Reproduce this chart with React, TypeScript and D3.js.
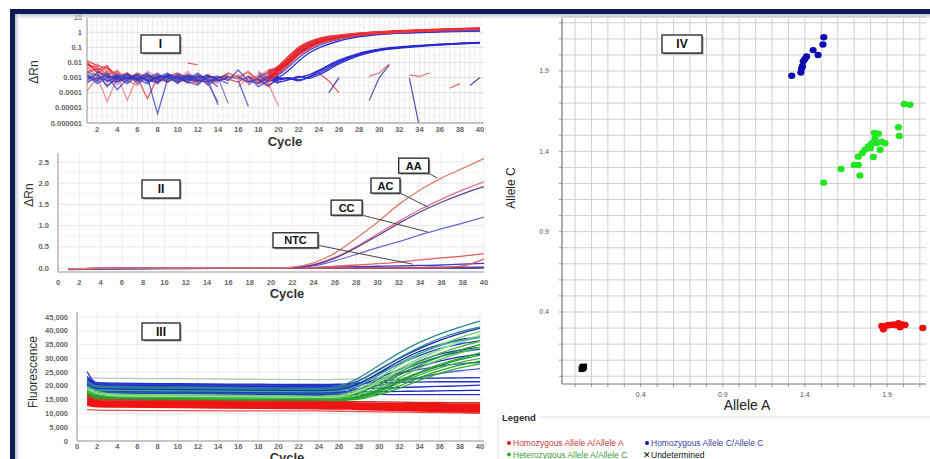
import React from 'react'
import * as d3 from 'd3'

const W = 930
const H = 459
const FONT = '"Liberation Sans", Arial, sans-serif'

// ---------- panel I : amplification plot (log dRn) ----------
const P1_NOISE_CYCLES = d3.range(1, 21)
// log10(dRn) read per cycle, null = no point drawn
const P1_NOISE_RED = [
  [-2.0, -2.6, -2.9, -3.1, -3.0, -2.8, -3.2, -2.9, -3.0, -3.3, -2.9, -3.1, -2.8, -3.2, -3.0, -2.9, -3.3, -3.0, -3.2, -2.6],
  [-2.3, -2.9, -4.6, -3.0, -3.2, -3.5, -2.8, -3.1, -2.9, -3.0, -3.4, -3.2, -3.0, null, null, -3.6, -3.0, -2.9, -3.4, -4.9],
  [-2.1, -2.5, -2.2, -3.2, -2.9, -3.0, -4.4, -3.0, -3.2, -2.8, -3.0, -3.1, -3.3, -3.0, -2.8, null, null, -2.7, -3.1, -2.8],
  [-3.9, -3.0, -2.6, -2.9, -4.5, -2.9, -3.1, -3.4, -2.8, -3.1, -3.2, -2.8, -3.1, -3.4, null, null, -2.7, -3.1, -2.9, -3.3],
  [-2.7, -2.4, -3.3, -2.8, -3.0, -3.2, -3.0, -2.8, -3.3, -2.9, -3.1, -3.4, -2.9, -3.0, -3.1, -3.3, -2.9, -3.4, -3.0, -2.7],
  [-3.4, -2.8, -2.7, -3.5, -2.9, -3.3, -2.9, -3.2, -3.0, -3.2, -2.8, -3.0, -3.2, null, null, null, -3.1, -3.3, -2.8, -3.1],
  [-2.2, -2.3, -2.8, -2.6, -3.1, -2.7, -3.0, -3.3, -2.9, -2.7, -3.0, -2.9, -3.5, -3.1, -2.7, -3.0, -2.6, -3.2, -3.6, -3.0],
  [-2.5, -3.2, -2.5, -3.0, -2.7, -3.1, -2.6, -3.0, -3.1, -3.2, -2.6, -3.3, null, null, -3.2, -2.8, -3.4, -2.9, -2.5, -3.4],
  [-1.9, -2.2, -2.4, -2.8, -3.0, null, null, null, null, null, null, null, null, null, null, null, null, -3.0, -2.6, -2.4],
  [-2.4, -2.1, -2.6, -3.0, -3.3, null, null, null, null, null, null, null, null, null, null, null, -2.9, -3.2, -2.7, -2.5],
  [-2.0, -2.7, -2.3, -2.9, -2.7, -3.2, null, null, null, null, null, null, null, null, null, null, null, -3.3, -2.9, -2.3],
  [-2.6, -2.3, -3.0, -2.5, -3.2, -2.9, -3.1, null, null, null, null, null, null, null, null, -3.1, -2.6, -3.4, -3.1, -2.9],
]
const P1_NOISE_BLUE = [
  [-2.6, -2.9, -3.1, -2.8, -3.0, -2.9, -3.1, -2.8, -3.0, -2.9, -3.2, -2.9, -3.0, -3.3, -2.9, -3.1, -3.0, -3.2, -2.9, -2.8],
  [-3.0, -3.2, -2.7, -3.3, -2.8, -3.1, -3.0, -5.4, -3.1, -2.8, -3.0, -3.3, -2.9, -3.1, -3.4, null, null, -2.8, -3.3, -3.0],
  [-2.8, -3.4, -3.0, -2.9, -3.2, -2.8, -3.3, -3.0, -2.7, -3.2, -2.9, -3.0, -3.2, -4.8, null, -3.2, -4.9, null, -2.9, -3.2],
  [-3.2, -2.8, -3.5, -3.1, -2.9, -3.3, -2.9, -3.2, -3.0, -3.0, -3.3, -2.8, -3.5, -3.0, -4.7, null, null, -2.6, -3.1, -3.4],
  [-2.9, -3.1, -2.9, -3.8, -3.1, -3.0, -2.8, -3.1, -3.3, -2.9, -3.1, -3.2, -3.0, -2.9, -3.2, -2.5, -3.2, -3.4, -3.0, -2.9],
  [-3.3, -3.0, -3.2, -3.0, -3.4, -2.9, -3.2, -3.0, -2.9, -3.4, -2.8, -3.1, -2.8, null, null, -3.0, -3.3, -3.1, -3.5, -3.1],
  [-2.7, -3.3, -2.8, -3.2, -2.7, -3.4, -3.0, -2.7, -3.2, -3.1, -2.8, -3.0, -3.4, -4.6, null, null, -3.5, -3.0, -2.7, -3.3],
  [-3.1, -2.7, -3.6, -2.9, -3.0, -3.1, -2.7, -3.4, -2.8, -3.0, -3.3, -3.5, -2.9, -3.2, -3.0, null, -2.9, -3.6, -3.2, -2.9],
  [null, null, -2.9, -3.0, -2.8, -3.2, -2.9, -3.1, -2.8, -3.0, -3.3, -2.9, -3.1, -3.6, null, null, null, null, null, null],
  [null, -3.0, -3.1, -2.7, -3.3, -2.9, -3.0, -3.2, -3.1, -2.8, -3.0, -3.1, -3.0, null, null, null, null, null, null, null],
  [null, null, -3.2, -3.3, -3.0, -3.1, -3.4, -2.9, -3.0, -3.3, -3.1, -2.7, -3.2, -3.0, -2.9, null, null, null, null, null],
  [null, -2.6, -2.9, -3.1, -3.0, -2.8, -3.2, -3.3, -2.9, -3.1, -2.9, -3.2, -3.3, -3.1, null, null, null, null, null, null],
]
const P1_RISE_CYCLES = [19, 20, 21, 22, 23, 24, 26, 28, 30, 33, 36, 40]
const P1_RISE_RED = [
  [0.003, 0.005, 0.02, 0.09, 0.2, 0.35, 0.6, 0.85, 1.05, 1.3, 1.55, 1.85],
  [0.001, 0.004, 0.015, 0.07, 0.17, 0.3, 0.55, 0.8, 1.0, 1.25, 1.5, 1.8],
  [0.002, 0.003, 0.012, 0.05, 0.13, 0.25, 0.5, 0.75, 0.95, 1.2, 1.45, 1.7],
  [0.0008, 0.003, 0.01, 0.04, 0.11, 0.22, 0.45, 0.7, 0.9, 1.15, 1.4, 1.65],
  [0.002, 0.006, 0.025, 0.1, 0.22, 0.38, 0.62, 0.85, 1.02, 1.25, 1.45, 1.7],
  [0.001, 0.002, 0.008, 0.035, 0.1, 0.2, 0.42, 0.66, 0.86, 1.1, 1.35, 1.6],
  [0.0005, 0.002, 0.007, 0.03, 0.08, 0.17, 0.38, 0.62, 0.82, 1.05, 1.3, 1.55],
]
const P1_RISE_BLUE = [
  [0.002, 0.004, 0.015, 0.06, 0.15, 0.27, 0.5, 0.72, 0.88, 1.05, 1.2, 1.35],
  [0.001, 0.002, 0.008, 0.035, 0.1, 0.2, 0.42, 0.65, 0.82, 1.0, 1.15, 1.3],
  [0.001, 0.0015, 0.005, 0.02, 0.06, 0.13, 0.33, 0.56, 0.74, 0.93, 1.08, 1.22],
  [0.0006, 0.001, 0.003, 0.012, 0.04, 0.09, 0.26, 0.48, 0.68, 0.88, 1.03, 1.18],
  [0.002, 0.003, 0.01, 0.045, 0.12, 0.23, 0.46, 0.68, 0.85, 1.03, 1.18, 1.32],
]
const P1_RISE_BLUE_LOW = [
  [0.001, 0.001, 0.0008, 0.001, 0.0015, 0.003, 0.014, 0.04, 0.075, 0.12, 0.16, 0.21],
  [0.0006, 0.0008, 0.001, 0.0007, 0.001, 0.002, 0.01, 0.033, 0.065, 0.11, 0.15, 0.2],
  [0.0009, 0.0005, 0.0007, 0.0012, 0.0009, 0.0015, 0.008, 0.028, 0.06, 0.1, 0.14, 0.19],
  [0.0012, 0.0007, 0.0009, 0.0006, 0.0011, 0.0025, 0.012, 0.036, 0.07, 0.115, 0.155, 0.205],
]
// stray segments after the rise: [cycle, dRn]
const P1_FRAGMENTS: { color: string; pts: [number, number][] }[] = [
  { color: '#e05a5a', pts: [[24, 0.002], [25, 0.0006], [26, 0.0001]] },
  { color: '#3a3ac0', pts: [[25, 0.0001], [26, 0.001]] },
  { color: '#e07070', pts: [[29, 0.0012], [30, 0.002], [31, 0.008]] },
  { color: '#5050b0', pts: [[29, 0.00003], [30, 0.001], [31, 0.007]] },
  { color: '#5050b0', pts: [[33, 0.0009], [34, 0.0000005]] },
  { color: '#e07070', pts: [[33, 0.0015], [34, 0.0012], [35, 0.002]] },
  { color: '#e07070', pts: [[37, 0.0002], [38, 0.0004]] },
  { color: '#5050b0', pts: [[39, 0.0003], [40, 0.001]] },
  { color: '#e05a5a', pts: [[11, 0.009], [12, 0.007]] },
]
const P1_Y_TICKS = [10, 1, 0.1, 0.01, 0.001, 0.0001, 0.00001, 0.000001]
const P1_Y_LABELS = ['10', '1', '0.1', '0.01', '0.001', '0.0001', '0.00001', '0.000001']

// ---------- panel II : linear dRn ----------
const P2_CYCLES = [1, 4, 10, 18, 20, 22, 24, 26, 28, 30, 32, 34, 36, 38, 40]
const P2_CURVES: { color: string; values: number[] }[] = [
  { color: '#1a1a80', values: [-0.03, -0.02, -0.01, 0, 0, 0, 0, 0, 0, 0, 0, 0, 0, 0, 0.01] },
  { color: '#8040a0', values: [-0.02, -0.01, 0, 0, 0, 0, 0, 0.005, 0.01, 0.01, 0.015, 0.015, 0.02, 0.02, 0.02] },
  { color: '#3a3ac8', values: [-0.02, -0.01, 0, 0, 0, 0, 0.01, 0.02, 0.03, 0.04, 0.05, 0.06, 0.07, 0.09, 0.11] },
  { color: '#e05050', values: [-0.02, -0.01, 0, 0, 0, 0, 0, 0, 0, 0, 0, 0, 0.01, 0.05, 0.21] },
  { color: '#e06060', values: [-0.02, -0.01, 0, 0, 0, 0, 0.01, 0.04, 0.07, 0.1, 0.14, 0.19, 0.24, 0.28, 0.34] },
  { color: '#6b6bd6', values: [-0.02, -0.01, 0, 0, 0, 0.01, 0.05, 0.17, 0.32, 0.48, 0.62, 0.78, 0.92, 1.06, 1.2] },
  { color: '#e0708a', values: [-0.02, -0.01, 0, 0, 0, 0.01, 0.08, 0.25, 0.5, 0.8, 1.1, 1.38, 1.62, 1.84, 2.03] },
  { color: '#5b3f9a', values: [-0.02, -0.01, 0, 0, 0, 0.01, 0.07, 0.23, 0.48, 0.76, 1.05, 1.32, 1.55, 1.75, 1.92] },
  { color: '#e07b67', values: [-0.02, -0.01, 0, 0, 0, 0.02, 0.12, 0.35, 0.7, 1.08, 1.5, 1.84, 2.12, 2.35, 2.58] },
]
// label boxes: box centre (cycle, dRn) and leader end (cycle, dRn)
const P2_LABELS = [
  { text: 'AA', cx: 33.4, top: 2.59, w: 30, from: [34.8, 2.24], to: [35.6, 2.12] },
  { text: 'AC', cx: 30.75, top: 2.12, w: 29, from: [32.1, 1.77], to: [34.7, 1.44] },
  { text: 'CC', cx: 27.1, top: 1.6, w: 31, from: [28.5, 1.25], to: [34.7, 0.85] },
  { text: 'NTC', cx: 22.3, top: 0.83, w: 45, from: [24.3, 0.54], to: [33.3, 0.09] },
]
const P2_Y_TICKS = [0, 0.5, 1, 1.5, 2, 2.5]

// ---------- panel III : raw fluorescence ----------
const P3_CYCLES = [1, 2, 4, 10, 18, 24, 26, 28, 30, 32, 34, 36, 38, 40]
const P3_BAND_CYCLES = [1, 2, 4, 10, 18, 24, 26]
const P3_BLUE_LOW = [19500, 18000, 17200, 17000, 16700, 16300, 16400]
const P3_BLUE_HIGH = [23400, 21200, 21000, 20800, 20600, 20500, 20600]
const P3_GREEN_LOW = [16100, 14900, 14800, 14600, 14500, 14300, 14300]
const P3_GREEN_HIGH = [19500, 18000, 16900, 16700, 16500, 16200, 16300]
const P3_RED_LOW = [12700, 12200, 12100, 11900, 11600, 11400, 11300, 11200, 11000, 10800, 10600, 10400, 10200, 10000]
const P3_RED_HIGH = [16400, 14900, 14800, 14600, 14400, 14300, 14200, 14100, 14000, 13900, 13800, 13800, 13700, 13700]
const P3_CURVES: { color: string; values: number[] }[] = [
  { color: '#b8c8b8', values: [22800, 22800, 22700, 22600, 22400, 22300, 22400, 22600, 22800, 22900, 23000, 23000, 23000, 23000] },
  { color: '#1f2fd0', values: [23400, 21200, 21000, 20800, 20600, 20500, 20600, 21000, 21200, 21300, 21400, 21500, 21500, 21500] },
  { color: '#2030c8', values: [21000, 19500, 19400, 19200, 19000, 18800, 18800, 19000, 19200, 19400, 19600, 19800, 20000, 20300] },
  { color: '#1a28b8', values: [19800, 18400, 18300, 18100, 17900, 17700, 17700, 17800, 17900, 18000, 18100, 18200, 18300, 18400] },
  { color: '#2535c0', values: [19000, 17600, 17500, 17300, 17100, 16900, 16900, 16900, 16900, 16800, 16800, 16800, 16800, 16800] },
  { color: '#3040c8', values: [25200, 20800, 20600, 20400, 20200, 20000, 20200, 21000, 21800, 22300, 22600, 22800, 22900, 23000] },
  { color: '#5060d8', values: [20800, 19200, 19100, 18900, 18700, 18500, 18600, 19200, 20200, 21500, 23000, 24500, 25500, 26300] },
  { color: '#4050d0', values: [22000, 20000, 19800, 19600, 19400, 19200, 19400, 20500, 22500, 24500, 26000, 27200, 28000, 28500] },
  { color: '#2232c0', values: [19500, 18200, 18100, 17900, 17700, 17500, 17700, 19000, 21500, 24500, 27000, 29000, 30500, 31500] },
  { color: '#1c2cb8', values: [20000, 18700, 18600, 18400, 18200, 18000, 18300, 20000, 23000, 26000, 29000, 31500, 33000, 34000] },
  { color: '#1f60a0', values: [19200, 17800, 17700, 17500, 17300, 17100, 17300, 18800, 21800, 25200, 28200, 30600, 32300, 33300] },
  { color: '#2a3ad0', values: [20500, 19000, 18900, 18700, 18500, 18300, 18800, 21000, 24500, 28000, 31000, 33500, 35200, 36300] },
  { color: '#1830a0', values: [20300, 18800, 18700, 18500, 18300, 18100, 18500, 20800, 24800, 29000, 32500, 35000, 36800, 37800] },
  { color: '#1a2aa8', values: [21500, 19800, 19600, 19400, 19200, 19000, 19600, 22000, 26000, 30000, 33500, 36500, 39000, 41000] },
  { color: '#2db02d', values: [16500, 15500, 15200, 15000, 14800, 14600, 14700, 15200, 16800, 19200, 22000, 24500, 26500, 28000] },
  { color: '#22a022', values: [16800, 15700, 15400, 15200, 15000, 14800, 14900, 15500, 17500, 20000, 23000, 25500, 27500, 29000] },
  { color: '#3cb83c', values: [17000, 16000, 15600, 15400, 15200, 15000, 15100, 15800, 18000, 21000, 24000, 26500, 28500, 30000] },
  { color: '#178f3a', values: [17200, 16100, 15700, 15500, 15300, 15100, 15200, 16000, 18300, 21500, 24700, 27300, 29500, 31200] },
  { color: '#2aa52a', values: [17500, 16300, 15800, 15600, 15400, 15200, 15300, 16300, 18800, 22000, 25000, 27800, 30000, 32000] },
  { color: '#56c856', values: [18000, 16800, 16000, 15800, 15600, 15400, 15500, 16800, 19500, 23000, 26500, 29500, 32000, 34000] },
  { color: '#1e9a1e', values: [18500, 17000, 16200, 16000, 15800, 15600, 15800, 17500, 20500, 24000, 27500, 30500, 33000, 35000] },
  { color: '#45b845', values: [18200, 16900, 16300, 16100, 15900, 15700, 15900, 17900, 21200, 25000, 28700, 31800, 34200, 36200] },
  { color: '#7ed67e', values: [18800, 17300, 16600, 16400, 16200, 16000, 16200, 18300, 22000, 26200, 30000, 33300, 35800, 37800] },
  { color: '#99e099', values: [19000, 17500, 16400, 16200, 16000, 15800, 16000, 18000, 21500, 25500, 29500, 33000, 36000, 38500] },
  { color: '#6fcf6f', values: [19500, 18000, 17000, 16700, 16500, 16300, 16600, 19000, 23000, 27500, 31500, 34800, 37500, 39800] },
  { color: '#3aa8a0', values: [20000, 18500, 18400, 18200, 18000, 17800, 18200, 20300, 24000, 28200, 31800, 34500, 36400, 37500] },
  { color: '#2a8a8a', values: [21800, 20000, 19800, 19500, 19300, 19100, 19800, 23000, 27500, 32000, 35800, 38800, 41300, 43500] },
  { color: '#2e7f9a', values: [21200, 19600, 19400, 19100, 18900, 18700, 19200, 21800, 25800, 30200, 34000, 37200, 39600, 41300] },
  { color: '#c0392b', values: [16700, 15100, 14900, 14700, 14500, 14400, 14300, 14300, 14200, 14100, 14000, 14000, 13900, 13900] },
  { color: '#e05050', values: [11400, 11200, 11100, 11000, 10900, 10900, 10800, 10700, 10600, 10500, 10400, 10300, 10200, 10100] },
]
const P3_Y_TICKS = d3.range(0, 45001, 5000)

// ---------- panel IV : allelic discrimination ----------
const P4_HOM_A: [number, number][] = [
  [1.868, 0.313], [1.878, 0.292], [1.9, 0.316], [1.91, 0.319], [1.925, 0.32], [1.94, 0.322],
  [1.955, 0.318], [1.97, 0.33], [1.98, 0.305], [1.995, 0.322], [2.01, 0.319], [2.118, 0.3],
]
const P4_HOM_C: [number, number][] = [
  [1.32, 1.87], [1.375, 1.89], [1.38, 1.915], [1.385, 1.93], [1.39, 1.96], [1.4, 1.975],
  [1.41, 1.99], [1.45, 2.03], [1.48, 2.0], [1.51, 2.065], [1.515, 2.11],
]
const P4_HET: [number, number][] = [
  [1.514, 1.205], [1.62, 1.29], [1.7, 1.315], [1.725, 1.315], [1.735, 1.25], [1.725, 1.367],
  [1.75, 1.39], [1.766, 1.41], [1.786, 1.43], [1.807, 1.45], [1.817, 1.365], [1.827, 1.48],
  [1.823, 1.515], [1.848, 1.51], [1.837, 1.45], [1.858, 1.41], [1.868, 1.46], [1.888, 1.45],
  [1.8, 1.42], [1.97, 1.55], [1.975, 1.496], [2.005, 1.695], [2.04, 1.69],
]
const P4_UNDET: [number, number][] = [[0.04, 0.045], [0.05, 0.05], [0.055, 0.06], [0.045, 0.058]]
const P4_TICK_LABELS = [0.4, 0.9, 1.4, 1.9]
const P4_LEGEND = [
  { label: 'Homozygous Allele A/Allele A', color: '#e01010', text: '#c83a3a', mark: 'dot', col: 0, row: 0 },
  { label: 'Homozygous Allele C/Allele C', color: '#1010b0', text: '#3a3aa0', mark: 'dot', col: 1, row: 0 },
  { label: 'Heterozygous Allele A/Allele C', color: '#20b020', text: '#3aa03a', mark: 'dot', col: 0, row: 1 },
  { label: 'Undetermined', color: '#000', text: '#111', mark: 'x', col: 1, row: 1 },
]

// scales
const x1 = d3.scaleLinear().domain([1, 40]).range([87, 480])
const y1 = d3.scaleLog().domain([1e-6, 10]).range([123, 17])
const x2 = d3.scaleLinear().domain([0, 40]).range([58, 484])
const y2 = d3.scaleLinear().domain([-0.1, 2.7]).range([272.2, 153.5])
const x3 = d3.scaleLinear().domain([0, 40]).range([77, 480])
const y3 = d3.scaleLinear().domain([0, 45000]).range([441, 317])
const x4 = d3.scaleLinear().domain([0.4, 1.9]).range([640.7, 887])
const y4 = d3.scaleLinear().domain([0.4, 1.9]).range([312, 71])

const P1 = { l: 87, r: 484, t: 17, b: 123 }
const P2 = { l: 58, r: 484, t: 153, b: 272 }
const P3 = { l: 77, r: 484, t: 312, b: 441 }
const P4 = { l: 562, r: 926, t: 17, b: 384 }

const tickFont = { fontFamily: FONT, fontSize: 7.5, fontWeight: 700, fill: '#666' } as const

function LabelBox({ x, y, w, h, text, size = 12 }: { x: number; y: number; w: number; h: number; text: string; size?: number }) {
  return (
    <g>
      <rect x={x + 1.5} y={y + 1.5} width={w} height={h} fill="#999" />
      <rect x={x} y={y} width={w} height={h} fill="#fff" stroke="#222" strokeWidth={1.3} />
      <text x={x + w / 2} y={y + h / 2 + size * 0.36} textAnchor="middle" fontFamily={FONT} fontWeight={700} fontSize={size} fill="#111">
        {text}
      </text>
    </g>
  )
}

export default function App() {
  const noiseLine = d3
    .line<number | null>()
    .defined((d) => d !== null)
    .x((_, i) => x1(P1_NOISE_CYCLES[i]))
    .y((d) => y1(Math.pow(10, d as number)))
  const riseLine = d3
    .line<number>()
    .x((_, i) => x1(P1_RISE_CYCLES[i]))
    .y((d) => y1(d))
    .curve(d3.curveMonotoneX)
  const fragLine = d3
    .line<[number, number]>()
    .x((d) => x1(d[0]))
    .y((d) => y1(d[1]))
  const line2 = d3
    .line<number>()
    .x((_, i) => x2(P2_CYCLES[i]))
    .y((d) => y2(d))
    .curve(d3.curveMonotoneX)
  const line3 = d3
    .line<number>()
    .x((_, i) => x3(P3_CYCLES[i]))
    .y((d) => y3(d))
    .curve(d3.curveMonotoneX)
  const bandArea = (low: number[], high: number[], cycles: number[]) =>
    d3
      .area<number>()
      .x((_, i) => x3(cycles[i]))
      .y0((_, i) => y3(low[i]))
      .y1((d) => y3(d))
      .curve(d3.curveMonotoneX)(high) as string

  const decades = P1_Y_TICKS
  const gridX4 = d3.range(0, 22).map((i) => i / 10).filter((v) => x4(v) > P4.l + 2 && x4(v) < P4.r)
  const gridY4 = d3.range(0, 23).map((i) => i / 10).filter((v) => y4(v) > P4.t + 2 && y4(v) < P4.b - 2)

  return (
    <svg width={W} height={H} style={{ position: 'absolute', left: 0, top: 0, background: '#fff' }}>
      <defs>
        <clipPath id="c1"><rect x={P1.l} y={P1.t} width={P1.r - P1.l} height={P1.b - P1.t} /></clipPath>
        <clipPath id="c2"><rect x={P2.l} y={P2.t} width={P2.r - P2.l} height={P2.b - P2.t} /></clipPath>
        <clipPath id="c3"><rect x={P3.l} y={P3.t} width={P3.r - P3.l} height={P3.b - P3.t} /></clipPath>
        <linearGradient id="shadeTop" x1="0" y1="0" x2="0" y2="1">
          <stop offset="0" stopColor="#9aa3b8" />
          <stop offset="1" stopColor="#ffffff" />
        </linearGradient>
        <linearGradient id="shadeLeft" x1="0" y1="0" x2="1" y2="0">
          <stop offset="0" stopColor="#9aa3b8" />
          <stop offset="1" stopColor="#ffffff" />
        </linearGradient>
      </defs>
      <rect width={W} height={H} fill="#fff" />

      {/* ---------- panel I ---------- */}
      <g>
        {d3.range(1, 40.01, 0.5).map((c) => (
          <line key={c} x1={x1(c)} x2={x1(c)} y1={P1.t} y2={P1.b} stroke="#e6e6e6" strokeWidth={0.8} />
        ))}
        {decades.map((v) => (
          <line key={v} x1={P1.l} x2={P1.r} y1={y1(v)} y2={y1(v)} stroke="#d6d6d6" strokeWidth={0.8} />
        ))}
        {decades.slice(1).map((v) => (
          <line key={'m' + v} x1={P1.l} x2={P1.r} y1={y1(v * 3)} y2={y1(v * 3)} stroke="#ececec" strokeWidth={0.8} strokeDasharray="2,1" />
        ))}
        <g clipPath="url(#c1)" fill="none" strokeWidth={1.3}>
          {P1_NOISE_RED.map((s, i) => (
            <path key={'nr' + i} d={noiseLine(s) as string} stroke={i % 2 === 0 ? '#e8202c' : '#e87070'} strokeOpacity={0.75} />
          ))}
          {P1_NOISE_BLUE.map((s, i) => (
            <path key={'nb' + i} d={noiseLine(s) as string} stroke={i % 3 === 0 ? '#6a5ab8' : '#2b35c8'} strokeOpacity={0.75} />
          ))}
          {P1_FRAGMENTS.map((f, i) => (
            <path key={'f' + i} d={fragLine(f.pts) as string} stroke={f.color} strokeWidth={1.2} />
          ))}
          {P1_RISE_BLUE_LOW.map((s, i) => (
            <path key={'bl' + i} d={riseLine(s) as string} stroke="#2a2ad0" strokeWidth={1.3} />
          ))}
          {P1_RISE_BLUE.map((s, i) => (
            <path key={'br' + i} d={riseLine(s) as string} stroke={i % 2 ? '#3030c8' : '#5050d8'} strokeWidth={1.3} />
          ))}
          {P1_RISE_RED.map((s, i) => (
            <path key={'rr' + i} d={riseLine(s) as string} stroke={i % 2 ? '#e01c28' : '#f03a3a'} strokeWidth={1.6} />
          ))}
        </g>
        <line x1={P1.l} x2={P1.l} y1={P1.t} y2={P1.b} stroke="#999" />
        <line x1={P1.l} x2={P1.r} y1={P1.b} y2={P1.b} stroke="#999" />
        {P1_Y_TICKS.map((v, i) => (
          <text key={v} x={82} y={y1(v) + 2.6} textAnchor="end" {...tickFont}>{P1_Y_LABELS[i]}</text>
        ))}
        {d3.range(2, 41, 2).map((c) => (
          <text key={c} x={x1(c)} y={132} textAnchor="middle" {...tickFont}>{c}</text>
        ))}
        <text x={285} y={146} textAnchor="middle" fontFamily={FONT} fontWeight={700} fontSize={13} fill="#333">Cycle</text>
        <text transform="translate(38,72) rotate(-90)" textAnchor="middle" fontFamily={FONT} fontSize={12} fill="#333">ΔRn</text>
        <LabelBox x={141} y={35} w={39} h={18} text="I" />
      </g>

      {/* ---------- panel II ---------- */}
      <g>
        {d3.range(0, 41, 2).map((c) => (
          <line key={c} x1={x2(c)} x2={x2(c)} y1={P2.t} y2={P2.b} stroke="#e8e8e8" strokeWidth={0.8} />
        ))}
        {d3.range(0, 2.71, 0.25).map((v) => (
          <line key={v} x1={P2.l} x2={P2.r} y1={y2(v)} y2={y2(v)} stroke={v % 0.5 === 0 ? '#e2e2e2' : '#f0f0f0'} strokeWidth={0.8} />
        ))}
        <g clipPath="url(#c2)" fill="none">
          {P2_CURVES.map((c, i) => (
            <path key={i} d={line2(c.values) as string} stroke={c.color} strokeWidth={i === 0 ? 1.8 : 1.3} />
          ))}
        </g>
        <line x1={P2.l} x2={P2.l} y1={P2.t} y2={P2.b} stroke="#999" />
        <line x1={P2.l} x2={P2.r} y1={P2.b} y2={P2.b} stroke="#999" />
        {P2_Y_TICKS.map((v) => (
          <text key={v} x={49} y={y2(v) + 2.6} textAnchor="end" {...tickFont}>{v.toFixed(1)}</text>
        ))}
        {d3.range(0, 41, 2).map((c) => (
          <text key={c} x={x2(c)} y={284.5} textAnchor="middle" {...tickFont}>{c}</text>
        ))}
        <text x={287} y={298} textAnchor="middle" fontFamily={FONT} fontWeight={700} fontSize={13} fill="#333">Cycle</text>
        <text transform="translate(33,195) rotate(-90)" textAnchor="middle" fontFamily={FONT} fontSize={12} fill="#333">ΔRn</text>
        <LabelBox x={142} y={180} w={38} h={18} text="II" />
        {P2_LABELS.map((l) => (
          <g key={l.text}>
            <line x1={x2(l.from[0])} y1={y2(l.from[1])} x2={x2(l.to[0])} y2={y2(l.to[1])} stroke="#333" strokeWidth={0.9} />
            <LabelBox x={x2(l.cx) - l.w / 2} y={y2(l.top)} w={l.w} h={15} text={l.text} size={11} />
          </g>
        ))}
      </g>

      {/* ---------- panel III ---------- */}
      <g>
        {d3.range(0, 41, 2).map((c) => (
          <line key={c} x1={x3(c)} x2={x3(c)} y1={P3.t} y2={P3.b} stroke="#e8e8e8" strokeWidth={0.8} />
        ))}
        {P3_Y_TICKS.map((v) => (
          <line key={v} x1={P3.l} x2={P3.r} y1={y3(v)} y2={y3(v)} stroke="#e8e8e8" strokeWidth={0.8} />
        ))}
        <g clipPath="url(#c3)">
          <path d={bandArea(P3_BLUE_LOW, P3_BLUE_HIGH, P3_BAND_CYCLES)} fill="#1426cc" />
          <path d={bandArea(P3_GREEN_LOW, P3_GREEN_HIGH, P3_BAND_CYCLES)} fill="#1f9a24" />
          <path d={bandArea(P3_RED_LOW, P3_RED_HIGH, P3_CYCLES)} fill="#ee1414" />
          <g fill="none">
            {P3_CURVES.map((c, i) => (
              <path key={i} d={line3(c.values) as string} stroke={c.color} strokeWidth={1.3} />
            ))}
          </g>
        </g>
        <line x1={P3.l} x2={P3.l} y1={P3.t} y2={P3.b} stroke="#999" />
        <line x1={P3.l} x2={P3.r} y1={P3.b} y2={P3.b} stroke="#999" />
        {P3_Y_TICKS.map((v) => (
          <text key={v} x={68} y={y3(v) + 2.6} textAnchor="end" {...tickFont}>{d3.format(',')(v)}</text>
        ))}
        {d3.range(0, 41, 2).map((c) => (
          <text key={c} x={x3(c)} y={448.5} textAnchor="middle" {...tickFont}>{c}</text>
        ))}
        <text x={287} y={462} textAnchor="middle" fontFamily={FONT} fontWeight={700} fontSize={13} fill="#333">Cycle</text>
        <text transform="translate(37,372) rotate(-90)" textAnchor="middle" fontFamily={FONT} fontSize={12} fill="#333">Fluorescence</text>
        <LabelBox x={142} y={323} w={38} h={17} text="III" />
      </g>

      {/* ---------- panel IV ---------- */}
      <g>
        {gridX4.map((v) => (
          <line key={'gx' + v} x1={x4(v)} x2={x4(v)} y1={P4.t} y2={P4.b} stroke="#d0d0d0" strokeWidth={1} />
        ))}
        {gridY4.map((v) => (
          <line key={'gy' + v} x1={P4.l} x2={P4.r} y1={y4(v)} y2={y4(v)} stroke="#d0d0d0" strokeWidth={1} />
        ))}
        {gridX4.map((v) => (
          <line key={'tx' + v} x1={x4(v)} x2={x4(v)} y1={P4.b} y2={P4.b + 3} stroke="#999" />
        ))}
        {gridY4.map((v) => (
          <line key={'ty' + v} x1={P4.l - 3} x2={P4.l} y1={y4(v)} y2={y4(v)} stroke="#999" />
        ))}
        <line x1={P4.l} x2={P4.r} y1={P4.t} y2={P4.t} stroke="#999" />
        <line x1={P4.l} x2={P4.l} y1={P4.t} y2={P4.b} stroke="#777" strokeWidth={1.2} />
        <line x1={P4.l} x2={P4.r} y1={P4.b} y2={P4.b} stroke="#777" strokeWidth={1.2} />
        {P4_TICK_LABELS.map((v) => (
          <text key={'lx' + v} x={x4(v)} y={396.5} textAnchor="middle" fontFamily={FONT} fontSize={7} fill="#555">{v.toFixed(1)}</text>
        ))}
        {P4_TICK_LABELS.map((v) => (
          <text key={'ly' + v} x={549} y={y4(v) + 2.4} textAnchor="end" fontFamily={FONT} fontSize={7} fill="#555">{v.toFixed(1)}</text>
        ))}
        {P4_UNDET.map((d, i) => (
          <rect key={'u' + i} x={x4(d[0]) - 3} y={y4(d[1]) - 3} width={6} height={6} fill="#000" />
        ))}
        {P4_HOM_C.map((d, i) => (
          <ellipse key={'c' + i} cx={x4(d[0])} cy={y4(d[1])} rx={3.6} ry={3.2} fill="#0c0cb0" />
        ))}
        {P4_HET.map((d, i) => (
          <ellipse key={'h' + i} cx={x4(d[0])} cy={y4(d[1])} rx={3.6} ry={3.2} fill="#22e622" />
        ))}
        {P4_HOM_A.map((d, i) => (
          <ellipse key={'a' + i} cx={x4(d[0])} cy={y4(d[1])} rx={3.6} ry={3.2} fill="#ee0c0c" />
        ))}
        <text x={747} y={409.5} textAnchor="middle" fontFamily={FONT} fontSize={14} fill="#222">Allele A</text>
        <text transform="translate(515,188) rotate(-90)" textAnchor="middle" fontFamily={FONT} fontSize={12} fill="#222">Allele C</text>
        <LabelBox x={662} y={35} w={40} h={18} text="IV" />

        {/* legend */}
        <line x1={541} x2={930} y1={417} y2={417} stroke="#ddd" />
        <line x1={498} x2={498} y1={417} y2={459} stroke="#ddd" />
        <text x={502} y={421} fontFamily={FONT} fontWeight={700} fontSize={9.5} fill="#333">Legend</text>
        {P4_LEGEND.map((l) => {
          const lx = l.col === 0 ? 509 : 647
          const ly = l.row === 0 ? 443 : 454.5
          return (
            <g key={l.label}>
              {l.mark === 'dot' ? (
                <circle cx={lx} cy={ly} r={2} fill={l.color} />
              ) : (
                <text x={lx} y={ly + 3.5} textAnchor="middle" fontFamily={FONT} fontSize={9} fill={l.color}>✕</text>
              )}
              <text x={lx + 4} y={ly + 3} fontFamily={FONT} fontSize={8.5} fill={l.text}>{l.label}</text>
            </g>
          )
        })}
      </g>

      {/* frame */}
      <rect x={15} y={14} width={W - 15} height={5} fill="url(#shadeTop)" opacity={0.6} />
      <rect x={15} y={14} width={5} height={H - 14} fill="url(#shadeLeft)" opacity={0.6} />
      <rect x={10} y={9} width={W - 10} height={5} fill="#0b1d55" />
      <rect x={10} y={9} width={5} height={H - 9} fill="#0b1d55" />
    </svg>
  )
}
